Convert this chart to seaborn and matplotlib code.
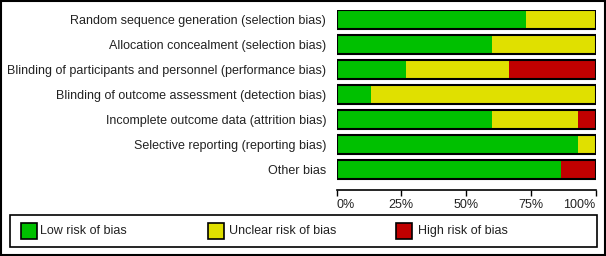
import matplotlib
matplotlib.use("Agg")
import matplotlib.pyplot as plt
from matplotlib.patches import Rectangle
import seaborn as sns
import pandas as pd
import numpy as np

categories = [
    "Random sequence generation (selection bias)",
    "Allocation concealment (selection bias)",
    "Blinding of participants and personnel (performance bias)",
    "Blinding of outcome assessment (detection bias)",
    "Incomplete outcome data (attrition bias)",
    "Selective reporting (reporting bias)",
    "Other bias",
]
low = [73.3, 60.0, 26.7, 13.3, 60.0, 93.3, 86.7]
unclear = [26.7, 40.0, 40.0, 86.7, 33.3, 6.7, 0.0]
high = [0.0, 0.0, 33.3, 0.0, 6.7, 0.0, 13.3]
tick_values = [0, 25, 50, 75, 100]
tick_labels = ["0%", "25%", "50%", "75%", "100%"]
legend_labels = ["Low risk of bias", "Unclear risk of bias", "High risk of bias"]

colors = ["#00c000", "#e0e000", "#c00000"]

sns.set_style("white")
plt.rcParams["font.family"] = ["Liberation Sans", "DejaVu Sans"]

W, H = 606, 256
fig = plt.figure(figsize=(W / 100, H / 100), dpi=100)

def fx(px):
    return px / W

def fy(py):
    return 1 - py / H

# axes in pixel coords: x 336.5..595.5, y 10..190
ax = fig.add_axes([fx(336.5), fy(190), (595.5 - 336.5) / W, (190 - 10) / H])

df = pd.DataFrame({"cat": categories, "low": low, "unclear": unclear, "high": high})
df["c_unclear"] = df["low"] + df["unclear"]
df["c_high"] = df["c_unclear"] + df["high"]

bar_w = 0.77
sns.barplot(data=df, y="cat", x="c_high", color=colors[2], width=bar_w,
            linewidth=0, saturation=1, ax=ax, orient="h")
sns.barplot(data=df, y="cat", x="c_unclear", color=colors[1], width=bar_w,
            linewidth=0, saturation=1, ax=ax, orient="h")
sns.barplot(data=df, y="cat", x="low", color=colors[0], width=bar_w,
            linewidth=0, saturation=1, ax=ax, orient="h")
sns.barplot(data=df, y="cat", x="c_high", fill=False, width=bar_w,
            edgecolor="black", linewidth=1.5, ax=ax, orient="h")

ax.set_xlim(0, 100)
ax.set_ylim(6.81, -0.386)
ax.set_xlabel("")
ax.set_ylabel("")
for s in ["top", "right", "left"]:
    ax.spines[s].set_visible(False)
ax.spines["bottom"].set_linewidth(1.2)
ax.spines["bottom"].set_color("black")
ax.set_xticks(tick_values)
ax.set_xticklabels(tick_labels, fontsize=9, color="#222222")
ax.tick_params(axis="x", bottom=True, direction="out", length=4, width=1,
               color="black", pad=2.5)
labs = ax.get_xticklabels()
labs[0].set_horizontalalignment("left")
labs[-1].set_horizontalalignment("right")
ax.tick_params(axis="y", left=False, length=0, pad=7.5)
ax.set_yticks(range(len(categories)))
ax.set_yticklabels(categories, fontsize=9, color="#222222")

# outer border
fig.patches.append(Rectangle((fx(0.75), fy(255.25)), (W - 1.5) / W, 254.5 / H,
                             transform=fig.transFigure, fill=False,
                             edgecolor="black", linewidth=1.5))
# legend box
fig.patches.append(Rectangle((fx(10), fy(246.5)), (597 - 10) / W, (246.5 - 215) / H,
                             transform=fig.transFigure, fill=False,
                             edgecolor="black", linewidth=1.2))
sq_x = [20.5, 208, 396.5]
txt_x = [40.5, 229, 418]
for c, lab, sx, tx in zip(colors, legend_labels, sq_x, txt_x):
    fig.patches.append(Rectangle((fx(sx), fy(238.5)), 16 / W, 16 / H,
                                 transform=fig.transFigure, facecolor=c,
                                 edgecolor="black", linewidth=1.2))
    fig.text(fx(tx), fy(231), lab, fontsize=9, color="#222222",
             va="center", ha="left")

fig.savefig("out.png", dpi=100)
